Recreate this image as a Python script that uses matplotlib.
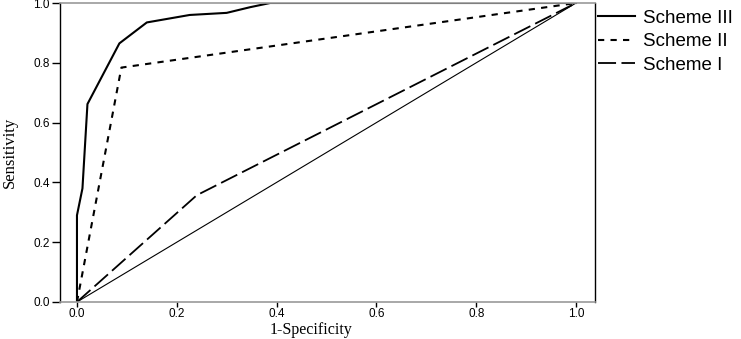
import matplotlib
matplotlib.use("Agg")
import matplotlib.pyplot as plt

# ROC curve points
fpr_s3 = [0.0, 0.0, 0.011, 0.021, 0.085, 0.14, 0.226, 0.30, 0.347, 0.387, 1.0]
tpr_s3 = [0.0, 0.29, 0.38, 0.662, 0.865, 0.935, 0.96, 0.967, 0.986, 1.0, 1.0]

fpr_s2 = [0.0, 0.089, 1.0]
tpr_s2 = [0.0, 0.784, 1.0]

fpr_s1 = [0.0, 0.24, 1.0]
tpr_s1 = [0.0, 0.357, 1.0]

ref_line = [0.0, 1.0]
ticks = [0.0, 0.2, 0.4, 0.6, 0.8, 1.0]
tick_labels = ["0.0", "0.2", "0.4", "0.6", "0.8", "1.0"]

fig = plt.figure(figsize=(7.41, 3.39), dpi=100)
ax = fig.add_axes([60 / 741, 37 / 339, 535 / 741, 299 / 339])

ax.plot(ref_line, ref_line, color="black", lw=0.8)
l3, = ax.plot(fpr_s3, tpr_s3, color="black", lw=1.5, label="Scheme III")
l2, = ax.plot(fpr_s2, tpr_s2, color="black", lw=1.5, linestyle=(0, (3, 3)),
              label="Scheme II")
l1, = ax.plot(fpr_s1, tpr_s1, color="black", lw=1.3, linestyle=(0, (10, 3)),
              label="Scheme I")

ax.set_xlim(-0.034, 1.038)
ax.set_ylim(0, 1.0)
ax.set_xticks(ticks)
ax.set_xticklabels(tick_labels, family="Liberation Sans", fontsize=8.5)
ax.set_yticks(ticks)
ax.set_yticklabels(tick_labels, family="Liberation Sans", fontsize=8.5)
ax.tick_params(axis="x", direction="out", length=3.5, width=1, pad=0.5)
ax.tick_params(axis="y", direction="out", length=6, width=1, pad=1.5)

for side in ["top", "bottom"]:
    ax.spines[side].set_color("#999999")
    ax.spines[side].set_linewidth(1.2)
for side in ["left", "right"]:
    ax.spines[side].set_color("black")
    ax.spines[side].set_linewidth(1.0)

ax.set_xlabel("1-Specificity", family="Liberation Serif", fontsize=11.5)
ax.set_ylabel("Sensitivity", family="Liberation Serif", fontsize=12)
ax.xaxis.set_label_coords((311 - 60) / 535, -20 / 299)
ax.yaxis.set_label_coords(-42 / 535, 0.5)

fig.legend(handles=[l3, l2, l1], loc="upper left",
           bbox_to_anchor=(594 / 741, 1 - 6 / 339),
           frameon=False, prop={"family": "Liberation Sans", "size": 13.5},
           handlelength=2.0, handletextpad=0.43, labelspacing=0.33,
           borderaxespad=0, borderpad=0.2)

fig.savefig("out.png", dpi=100)
